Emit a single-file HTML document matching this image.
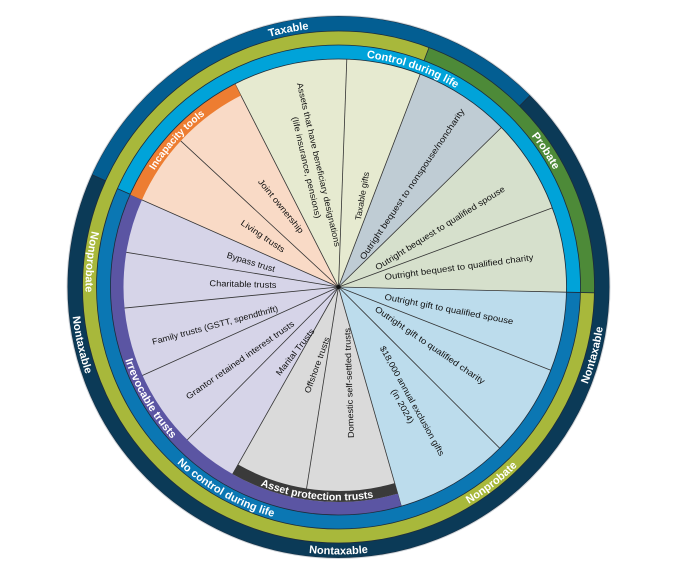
<!DOCTYPE html>
<html><head><meta charset="utf-8"><style>
html,body{margin:0;padding:0;background:#fff;width:687px;height:582px;overflow:hidden;}
svg{display:block;}
.w{font-family:"Liberation Sans",sans-serif;font-size:8.5px;fill:#111;}
.r{font-family:"Liberation Sans",sans-serif;font-size:11px;font-weight:bold;fill:#fff;}
</style></head><body>
<svg width="687" height="582" viewBox="0 0 687 582" xmlns="http://www.w3.org/2000/svg">
<defs>
<path id="cwN" d="M -166.8,-198.8 A 259.5 259.5 0 0 1 166.8,-198.8"/>
<path id="cwL" d="M -157.5,-187.7 A 245 245 0 0 1 157.5,-187.7"/>
<path id="cwB" d="M -148.5,-176.9 A 231 231 0 0 1 148.5,-176.9"/>
<path id="cwO" d="M -140.1,-167.0 A 218 218 0 0 1 140.1,-167.0"/>
<path id="ccN" d="M -171.9,204.9 A 267.5 267.5 0 0 0 171.9,204.9"/>
<path id="ccL" d="M -162.6,193.8 A 253 253 0 0 0 162.6,193.8"/>
<path id="ccB" d="M -153.6,183.1 A 239 239 0 0 0 153.6,183.1"/>
<path id="ccP" d="M -145.0,172.7 A 225.5 225.5 0 0 0 145.0,172.7"/>
<path id="ccA" d="M -137.2,163.5 A 213.5 213.5 0 0 0 137.2,163.5"/>
</defs>
<g transform="translate(338.5,287)" fill="none">
<circle r="263.5" stroke="#0b3a57" stroke-width="15"/>
<circle r="263.5" stroke="#035e92" stroke-width="15" pathLength="360" stroke-dasharray="110.5 1000" transform="rotate(204.5)"/>
<circle r="249" stroke="#a8b83b" stroke-width="14"/>
<circle r="249" stroke="#4d8a38" stroke-width="14" pathLength="360" stroke-dasharray="70.6 1000" transform="rotate(290.7)"/>
<circle r="235" stroke="#0b77b3" stroke-width="14"/>
<circle r="235" stroke="#00a3d9" stroke-width="14" pathLength="360" stroke-dasharray="157.3 1000" transform="rotate(204)"/>
<circle r="114" stroke="#d6e0cc" stroke-width="228" pathLength="360" stroke-dasharray="45.7 1000" transform="rotate(315.6)"/>
<circle r="114" stroke="#bfccd4" stroke-width="228" pathLength="360" stroke-dasharray="24.6 1000" transform="rotate(291)"/>
<circle r="114" stroke="#e6ead0" stroke-width="228" pathLength="360" stroke-dasharray="48 1000" transform="rotate(243)"/>
<circle r="114" stroke="#f9dac6" stroke-width="228" pathLength="360" stroke-dasharray="39.1 1000" transform="rotate(203.9)"/>
<circle r="114" stroke="#d6d4e8" stroke-width="228" pathLength="360" stroke-dasharray="84.4 1000" transform="rotate(119.5)"/>
<circle r="114" stroke="#dadada" stroke-width="228" pathLength="360" stroke-dasharray="45.5 1000" transform="rotate(74)"/>
<circle r="114" stroke="#bcdcec" stroke-width="228" pathLength="360" stroke-dasharray="72.7 1000" transform="rotate(1.3)"/>
<g stroke="#333" stroke-width="0.8">
<line x1="0" y1="0" x2="227.9" y2="5.2"/>
<line x1="0" y1="0" x2="213.8" y2="-79.1"/>
<line x1="0" y1="0" x2="162.9" y2="-159.5"/>
<line x1="0" y1="0" x2="81.7" y2="-212.9"/>
<line x1="0" y1="0" x2="8.3" y2="-227.8"/>
<line x1="0" y1="0" x2="-103.5" y2="-203.1"/>
<line x1="0" y1="0" x2="-167.3" y2="-154.9"/>
<line x1="0" y1="0" x2="-208.5" y2="-92.4"/>
<line x1="0" y1="0" x2="-225.0" y2="-36.8"/>
<line x1="0" y1="0" x2="-226.9" y2="22.3"/>
<line x1="0" y1="0" x2="-207.8" y2="93.8"/>
<line x1="0" y1="0" x2="-160.4" y2="162.1"/>
<line x1="0" y1="0" x2="-112.3" y2="198.4"/>
<line x1="0" y1="0" x2="-35.7" y2="225.2"/>
<line x1="0" y1="0" x2="62.8" y2="219.2"/>
<line x1="0" y1="0" x2="161.2" y2="161.2"/>
<line x1="0" y1="0" x2="212.3" y2="83.2"/>
</g>
<circle r="221.5" stroke="#ed7d31" stroke-width="13" pathLength="360" stroke-dasharray="39.1 1000" transform="rotate(203.9)"/>
<circle r="221.5" stroke="#5b55a3" stroke-width="13" pathLength="360" stroke-dasharray="129.9 1000" transform="rotate(74)"/>
<circle r="209.5" stroke="#3a3a3a" stroke-width="11" pathLength="360" stroke-dasharray="45.5 1000" transform="rotate(74)"/>
<g stroke="#1d2b3a" stroke-width="0.8">
<circle r="271"/><circle r="256"/><circle r="242"/><circle r="228"/>
<line x1="181.0" y1="-181.0" x2="191.6" y2="-191.6"/>
<line x1="-233.0" y1="-106.2" x2="-246.6" y2="-112.4"/>
<line x1="227.9" y1="5.2" x2="255.9" y2="5.8"/>
<line x1="85.5" y1="-226.4" x2="90.5" y2="-239.5"/>
<line x1="-208.3" y1="-92.7" x2="-221.1" y2="-98.4"/>
</g>
<circle r="271.5" stroke="#cfd6dc" stroke-width="1"/>
<circle r="2" fill="#111"/>
<g class="r">
<g transform="rotate(-11)"><text><textPath href="#cwN" startOffset="50%" text-anchor="middle">Taxable</textPath></text></g>
<g transform="rotate(18.8)"><text><textPath href="#cwB" startOffset="50%" text-anchor="middle">Control during life</textPath></text></g>
<g transform="rotate(56.7)"><text><textPath href="#cwL" startOffset="50%" text-anchor="middle">Probate</textPath></text></g>
<g transform="rotate(-47.7)"><text style="font-size:10px"><textPath href="#cwO" startOffset="50%" text-anchor="middle">Incapacity tools</textPath></text></g>
<g transform="rotate(95.8)"><text><textPath href="#ccL" startOffset="50%" text-anchor="middle">Nonprobate</textPath></text></g>
<g transform="rotate(77.3)"><text><textPath href="#ccN" startOffset="50%" text-anchor="middle">Nontaxable</textPath></text></g>
<g transform="rotate(59.4)"><text><textPath href="#ccP" startOffset="50%" text-anchor="middle">Irrevocable trusts</textPath></text></g>
<g transform="rotate(29.2)"><text><textPath href="#ccB" startOffset="50%" text-anchor="middle">No control during life</textPath></text></g>
<g transform="rotate(6)"><text style="font-size:10.5px"><textPath href="#ccA" startOffset="50%" text-anchor="middle">Asset protection trusts</textPath></text></g>
<g transform="rotate(-38)"><text><textPath href="#ccL" startOffset="50%" text-anchor="middle">Nonprobate</textPath></text></g>
<g transform="rotate(-75)"><text><textPath href="#ccN" startOffset="50%" text-anchor="middle">Nontaxable</textPath></text></g>
<g><text><textPath href="#ccN" startOffset="50%" text-anchor="middle">Nontaxable</textPath></text></g>
</g>
</g>
<g class="w" text-anchor="middle" dominant-baseline="central">
<text transform="translate(459,267) rotate(-7.6)" textLength="150" lengthAdjust="spacingAndGlyphs">Outright bequest to qualified charity</text>
<text transform="translate(440,228) rotate(-32)" textLength="151" lengthAdjust="spacingAndGlyphs">Outright bequest to qualified spouse</text>
<text transform="translate(412,184) rotate(-56)" textLength="180" lengthAdjust="spacingAndGlyphs">Outright bequest to nonspouse/noncharity</text>
<text transform="translate(362,196) rotate(-80)" textLength="49" lengthAdjust="spacingAndGlyphs">Taxable gifts</text>
<g transform="translate(313,166) rotate(76.9)">
<text y="-6" textLength="168" lengthAdjust="spacingAndGlyphs">Assets that have beneficiary designations</text>
<text y="6.5" textLength="104" lengthAdjust="spacingAndGlyphs">(life insurance, pensions)</text>
</g>
<text transform="translate(281,206) rotate(51)" textLength="67" lengthAdjust="spacingAndGlyphs">Joint ownership</text>
<text transform="translate(263,236) rotate(34)" textLength="51" lengthAdjust="spacingAndGlyphs">Living trusts</text>
<text transform="translate(251,262) rotate(17)" textLength="50" lengthAdjust="spacingAndGlyphs">Bypass trust</text>
<text transform="translate(243,284) rotate(1.5)" textLength="67" lengthAdjust="spacingAndGlyphs">Charitable trusts</text>
<text transform="translate(215,325) rotate(-15)" textLength="130" lengthAdjust="spacingAndGlyphs">Family trusts (GSTT, spendthrift)</text>
<text transform="translate(240,360) rotate(-35)" textLength="130" lengthAdjust="spacingAndGlyphs">Grantor retained interest trusts</text>
<text transform="translate(295,352) rotate(-52)" textLength="57" lengthAdjust="spacingAndGlyphs">Marital Trusts</text>
<text transform="translate(317,365) rotate(-70)" textLength="59" lengthAdjust="spacingAndGlyphs">Offshore trusts</text>
<text transform="translate(349,383) rotate(-92)" textLength="110" lengthAdjust="spacingAndGlyphs">Domestic self-settled trusts</text>
<g transform="translate(407.5,403.5) rotate(61)">
<text y="-5.5" textLength="124" lengthAdjust="spacingAndGlyphs">$18,000 annual exclusion gifts</text>
<text y="5.5" textLength="38" lengthAdjust="spacingAndGlyphs">(in 2024)</text>
</g>
<text transform="translate(430,345) rotate(34.4)" textLength="131" lengthAdjust="spacingAndGlyphs">Outright gift to qualified charity</text>
<text transform="translate(449,309) rotate(11)" textLength="131" lengthAdjust="spacingAndGlyphs">Outright gift to qualified spouse</text>
</g>
</svg>
</body></html>
